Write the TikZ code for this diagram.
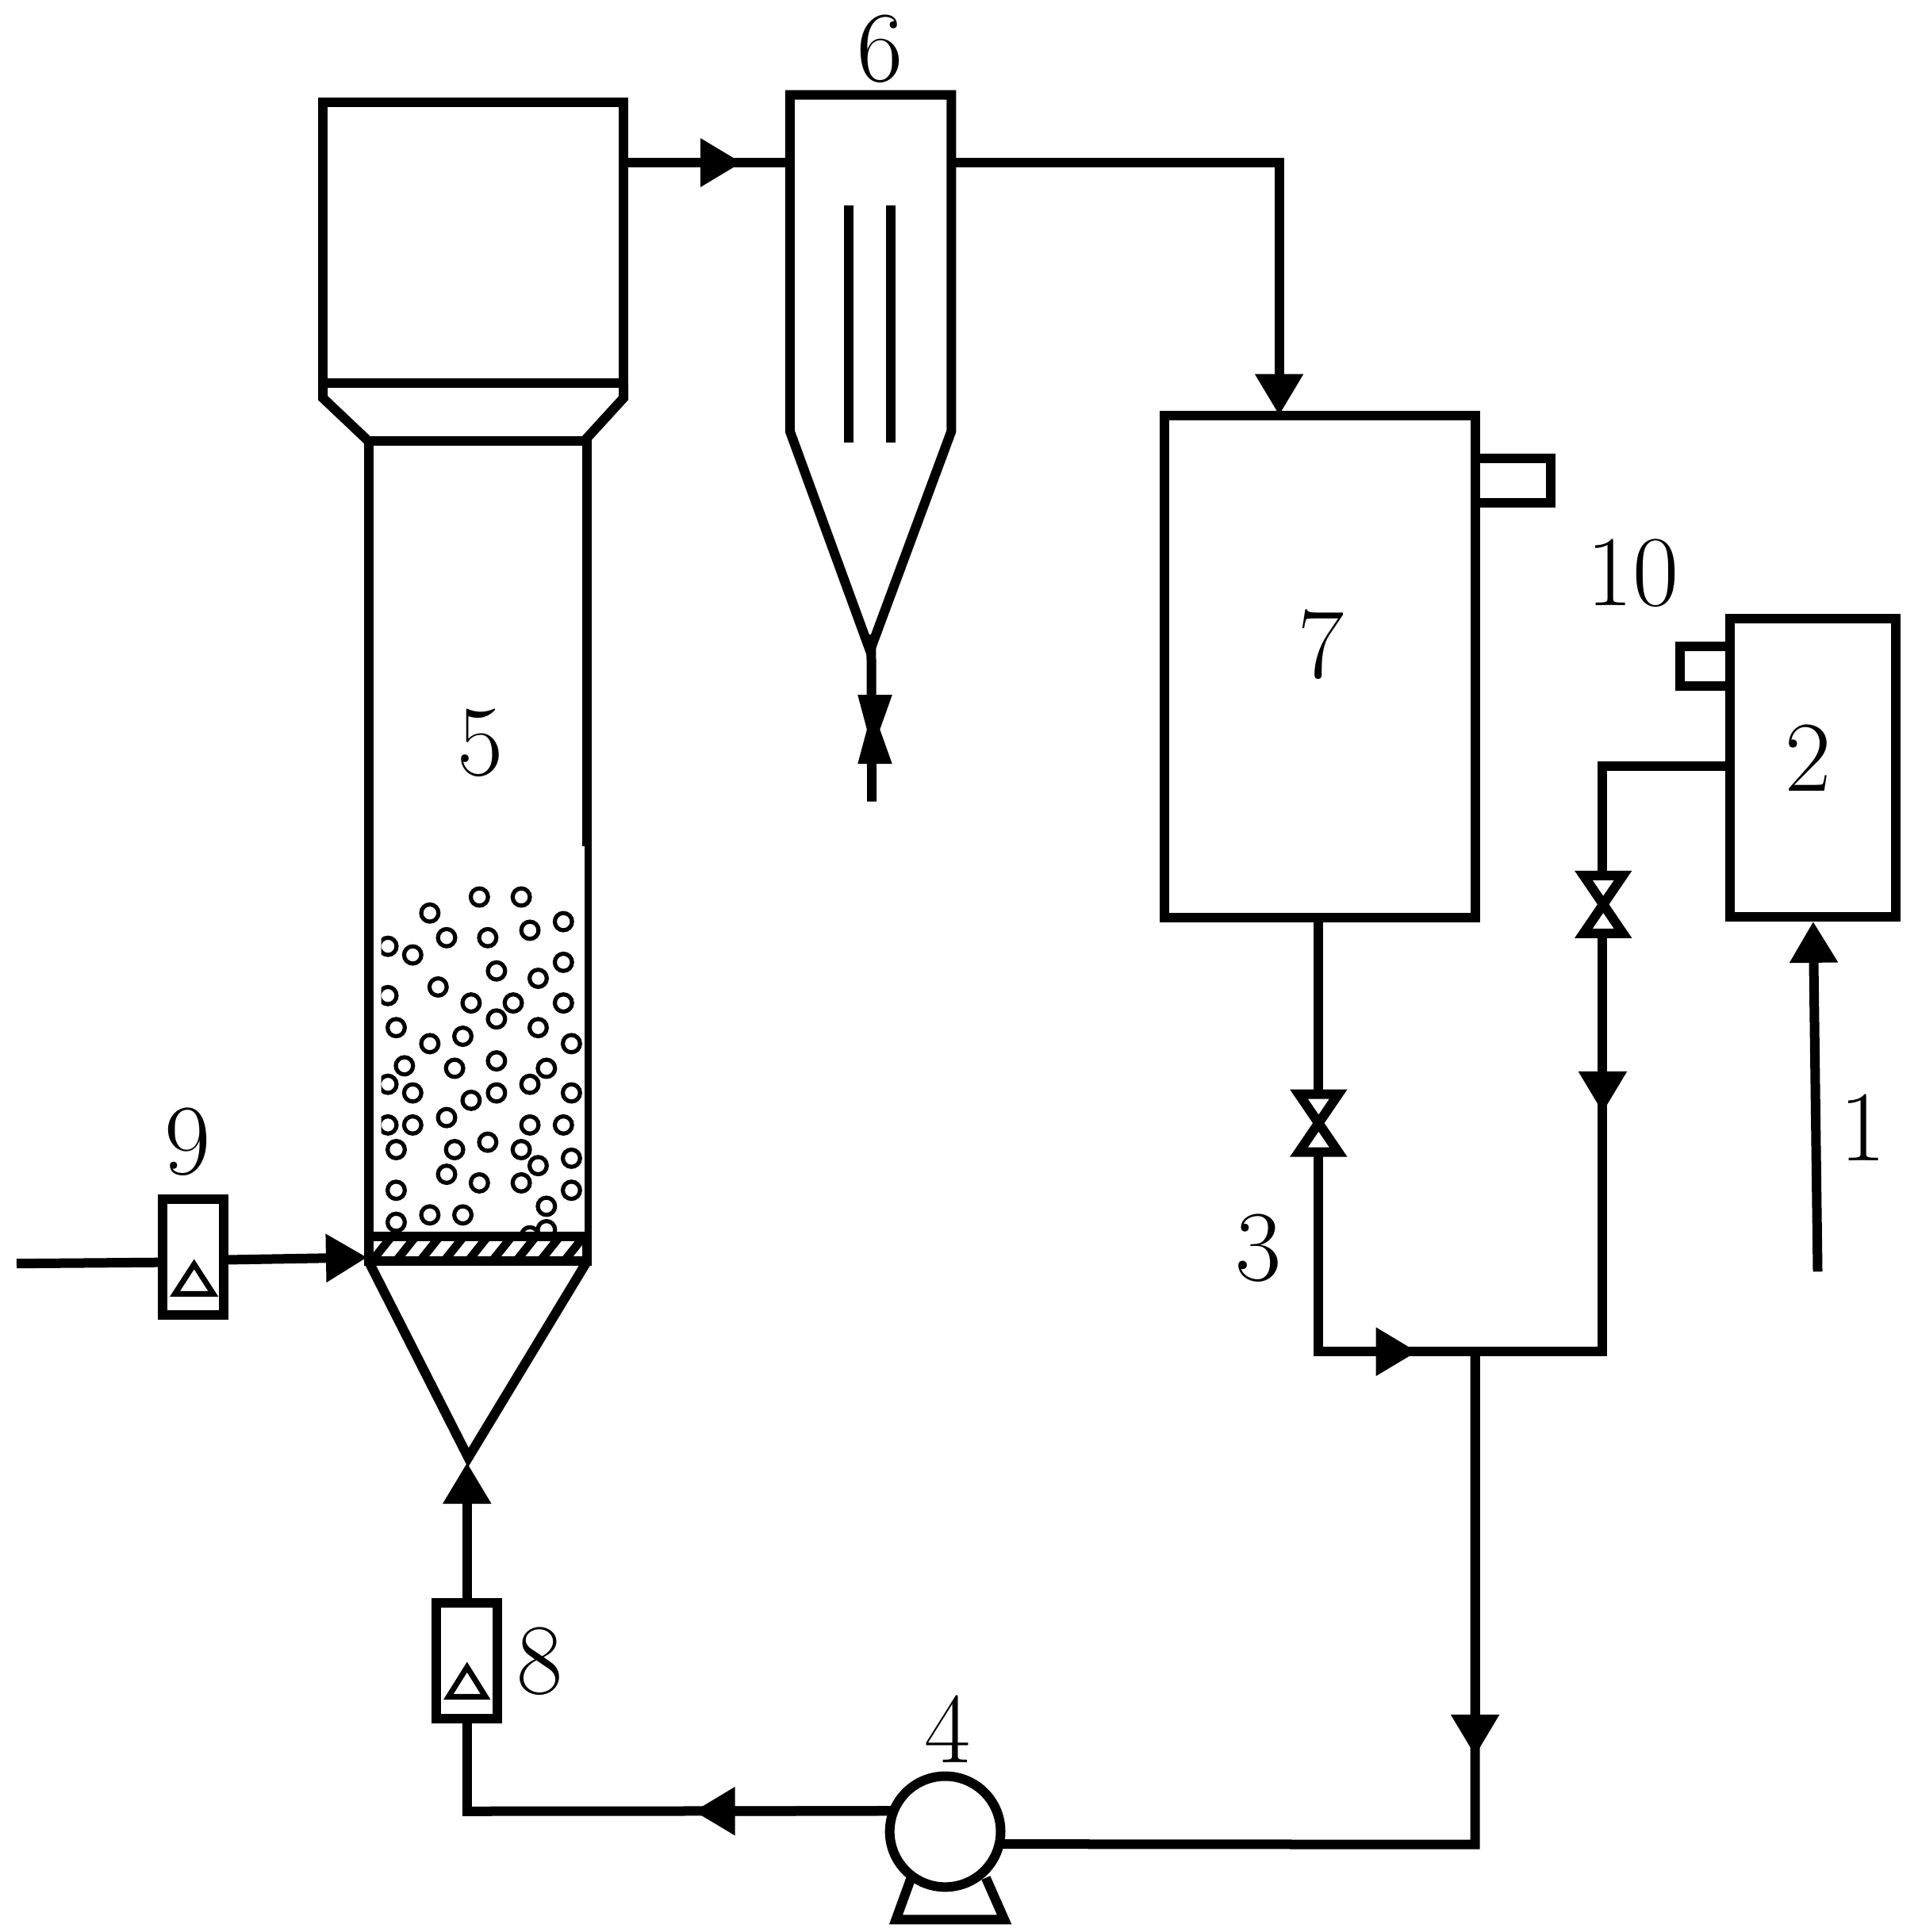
\documentclass[tikz,border=0pt]{standalone}
\usepackage{tikz}
\usetikzlibrary{arrows.meta}
\def\pu{0.01554cm}
\tikzset{
  pipe/.style={line width=0.12cm},
  flow/.style={pipe, -{Triangle[length=0.52cm,width=0.58cm]}},
  unit/.style 2 args={draw, pipe, inner sep=0pt, outer sep=0pt, fill=white, minimum width=#1*\pu, minimum height=#2*\pu},
  lab/.style={inner sep=0pt, font=\fontsize{36}{40}\selectfont},
  bead/.style={line width=0.052cm},
  floats/.style={line width=0.07cm},
  valve/.pic={\draw[pipe] (-16,-23.5)--(16,-23.5)--(-16,23.5)--(16,23.5)--cycle;}
}
\begin{document}
\begin{tikzpicture}[x=0.01554cm, y=-0.015536cm, pipe]
\useasboundingbox (0,0) rectangle (1556,1568);

\node[unit={244}{228}] (hood) at (384,197) {};
\node[unit={177.5}{665.5}] (tube) at (387.75,690.75) {};
\draw (262,311)--(262,323)--(299,358);
\draw (506,311)--(506,323)--(474,358);
\draw (299,1003.5)--(476.5,1003.5);
\draw (299,1023.5)--(380,1183)--(476.5,1023.5);
\fill[white] (460,687) rectangle (474.3,999.5);
\begin{scope}
\clip (309.4,690) rectangle (474.3,999.5);
\foreach \x/\y in {389/728,423/728,348.8/741,457.2/748,430/755,362.4/761,395.8/761,314.8/768,334.9/775,
  457.2/781,402.9/788,436.7/794,355.5/801,314.8/808,382.3/814,416.5/814,457.2/814,402.9/827,321.5/834,
  436.7/834,375.6/841,348.8/847,463.7/847,402.9/861,328.2/865,443.4/867,368.9/867,314.8/880,430/880,
  334.9/887,402.9/887,463.7/887,382.3/893,362.4/907,314.8/913,334.9/913,430/913,457.2/913,395.8/927,
  368.9/933,321.5/933,423/933,463.7/940,436.7/946,362.4/953,389/960,423/960,321.5/966,463.7/966,
  443.4/979,348.8/986,375.6/986,321.5/992,443.4/998,430/1003}
  \draw[bead] (\x,\y) circle (7);
\end{scope}
\begin{scope}
\clip (303,1007.5) rectangle (473,1020);
\foreach \i in {0,...,8} \draw[line width=0.105cm] ({303+19.5*\i},1022)--({316.6+19.5*\i},1005);
\end{scope}

\coordinate (tiptop) at (602,132);
\coordinate (cycin) at (641,132);
\coordinate (cycout) at (772,132);
\coordinate (cycapex) at (707,515);
\coordinate (cycend) at (707.5,650.5);
\coordinate (tankin) at (1038,337);
\draw (641,350)--(641,77)--(772,77)--(772,350)--(706,528)--cycle;
\draw (689,167)--(689,359);
\draw (723,167)--(723,359);
\draw (hood.east |- tiptop)--(cycin);
\draw[flow] (hood.east |- tiptop)--(tiptop);
\draw[flow] (cycout)-|(tankin);
\draw (cycapex)--(cycend);
\fill (696,564)--(724,564)--(714,592)--(724,620)--(696,620)--(703.5,592)--cycle;

\node[unit={252}{408}] (tank) at (1071,541) {};
\node[unit={61}{36}] (tankvent) at (1228,390) {};
\node[unit={134.6}{242}] (dose) at (1471.3,623) {};
\node[unit={41}{32.5}] (dosevent) at (1383.5,540.75) {};
\pic at (1070,911.5) {valve};
\pic at (1301,734) {valve};
\coordinate (v3top) at (1070,885);
\coordinate (v3bot) at (1070,938);
\coordinate (v10top) at (1300.5,710);
\coordinate (v10bot) at (1300.5,758);
\coordinate (dosebend) at (1300.5,621.8);
\coordinate (tipmix) at (1150,1097);
\coordinate (mix) at (1197,1097);
\coordinate (mixright) at (1300.5,1097);
\coordinate (tipdose) at (1300.5,903);
\coordinate (tipdrop) at (1197,1425);
\coordinate (bend) at (1197,1497);
\coordinate (feed) at (1475,1032);
\draw (tank.south -| v3top)--(v3top);
\draw (v3bot)|-(mixright)--(v10bot);
\draw[flow] (v3bot)|-(tipmix);
\draw (dose.west |- dosebend)--(dosebend)--(v10top);
\draw[flow] (v10bot)--(tipdose);
\draw[flow] (mix)--(tipdrop);
\draw[flow, shorten >=0.06cm] (feed)--(dose.south);

\draw[fill=white] (739,1525)--(727,1558)--(815,1558)--(800,1524);
\node[unit={90}{90}, circle] (pump) at (767,1486.5) {};
\draw (mix)--(bend)--(pump.-13.5);

\node[unit={49.5}{94}] (rotb) at (379,1348) {};
\node[unit={49.5}{94}] (rota) at (156.75,1020) {};
\draw[floats] (379,1353)--(364,1377)--(394,1377)--cycle;
\draw[floats] (157.5,1026)--(142,1050)--(173,1050)--cycle;
\coordinate (tipleft) at (563,1470);
\coordinate (rotbend) at (379,1470);
\coordinate (tipcone) at (379,1187);
\coordinate (airin) at (13.5,1025.5);
\coordinate (rotain) at (132,1024.5);
\coordinate (rotaout) at (181.5,1022.5);
\coordinate (tipair) at (298,1020.5);
\draw (pump.158.5)--(rotbend)--(rotb.south);
\draw[flow] (pump.158.5)--(tipleft);
\draw[flow] (rotb.north)--(tipcone);
\draw (airin)--(rotain);
\draw[flow] (rotaout)--(tipair);

\node[lab] (lab1) at (1512,915) {1};
\node[lab] (lab2) at (1467,615) {2};
\node[lab] (lab3) at (1021,1013) {3};
\node[lab] (lab4) at (769,1403) {4};
\node[lab] (lab5) at (390,603) {5};
\node[lab] (lab6) at (714,40) {6};
\node[lab] (lab7) at (1072,523) {7};
\node[lab] (lab8) at (438,1348) {8};
\node[lab] (lab9) at (152,927) {9};
\node[lab] (lab10) at (1325,465) {10};
\end{tikzpicture}
\end{document}
